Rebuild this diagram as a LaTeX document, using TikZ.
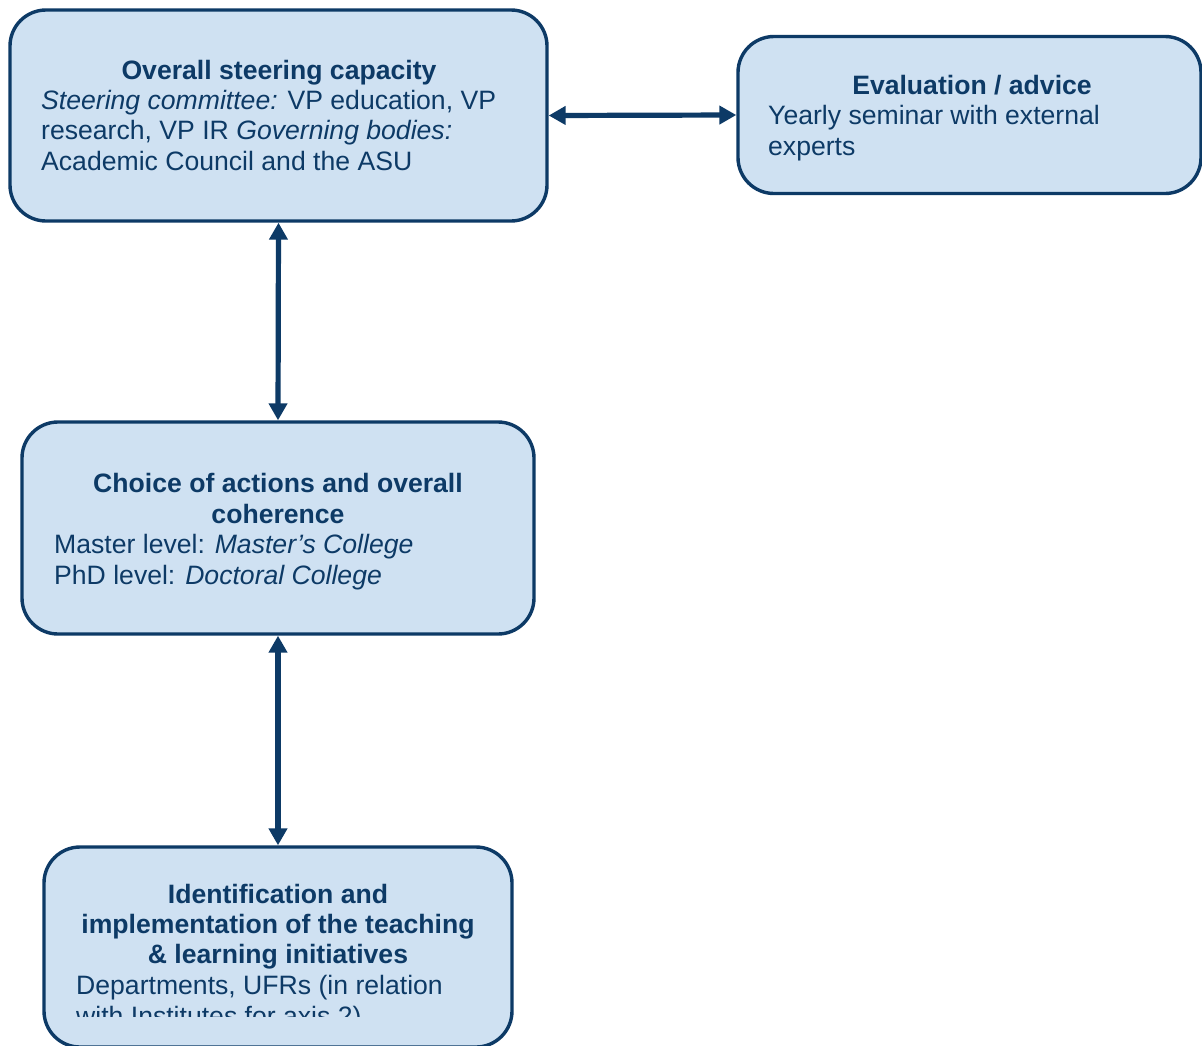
\documentclass[tikz,border=0pt]{standalone}
\usepackage{fontspec}
\setmainfont{Liberation Sans}
\usetikzlibrary{arrows.meta}
\definecolor{navy}{HTML}{0D3A66}
\definecolor{boxfill}{HTML}{CFE1F2}
\tikzset{
  box/.style={draw=navy, fill=boxfill, line width=3.4pt, rounded corners=36pt, inner sep=0pt},
  link/.style={draw=navy, line width=5.2pt, {Triangle[length=17pt,width=18pt]}-{Triangle[length=17pt,width=18pt]}},
  head/.style={text=navy, font=\fontsize{26.6}{30.5}\selectfont\bfseries, anchor=base, inner sep=0pt},
  body/.style={text=navy, font=\fontsize{26.6}{30.5}\selectfont, anchor=base west, inner sep=0pt}
}
\begin{document}
\begin{tikzpicture}[x=1pt,y=-1pt]
\useasboundingbox (0,0) rectangle (1202,1045);
\clip (0,0) rectangle (1202,1045);
\fill[white] (0,0) rectangle (1202,1045);
% boxes
\node[box, minimum width=537pt, minimum height=211pt] (b1) at (278.5,115.5) {};
\node[box, minimum width=463pt, minimum height=157pt] (b2) at (969.5,115) {};
\node[box, minimum width=512pt, minimum height=212pt] (b3) at (278,528) {};
\node[box, minimum width=468pt, minimum height=200pt] (b4) at (278,947) {};
% texts box 1
\node[head] (t1h) at (279,79) {Overall steering capacity};
\node[body] (t1a) at (41,109) {{\itshape Steering committee:} VP education, VP};
\node[body] (t1b) at (41,139) {research, VP IR {\itshape Governing bodies:}};
\node[body] (t1c) at (41,170) {Academic Council and the ASU};
% texts box 2
\node[head] (t2h) at (972,94) {Evaluation / advice};
\node[body] (t2a) at (768,124) {Yearly seminar with external};
\node[body] (t2b) at (768,155) {experts};
% texts box 3
\node[head] (t3h) at (278,492) {Choice of actions and overall};
\node[head] (t3i) at (278,523) {coherence};
\node[body] (t3a) at (54,553) {Master level: {\itshape Master’s College}};
\node[body] (t3b) at (54,584) {PhD level: {\itshape Doctoral College}};
% texts box 4
\node[head] (t4h) at (278,903) {Identification and};
\node[head] (t4i) at (278,933) {implementation of the teaching};
\node[head] (t4j) at (278,963) {\& learning initiatives};
\node[body] (t4a) at (76,994) {Departments, UFRs (in relation};
\begin{scope}
\clip (0,0) rectangle (1202,1016);
\node[body] (t4b) at (76,1025) {with Institutes for axis 2)};
\end{scope}
% connectors
\draw[link] (b1.east) -- (b2.west);
\draw[link] (b1.south) -- (b3.north);
\draw[link] (b3.south) -- (b4.north);
\end{tikzpicture}
\end{document}
